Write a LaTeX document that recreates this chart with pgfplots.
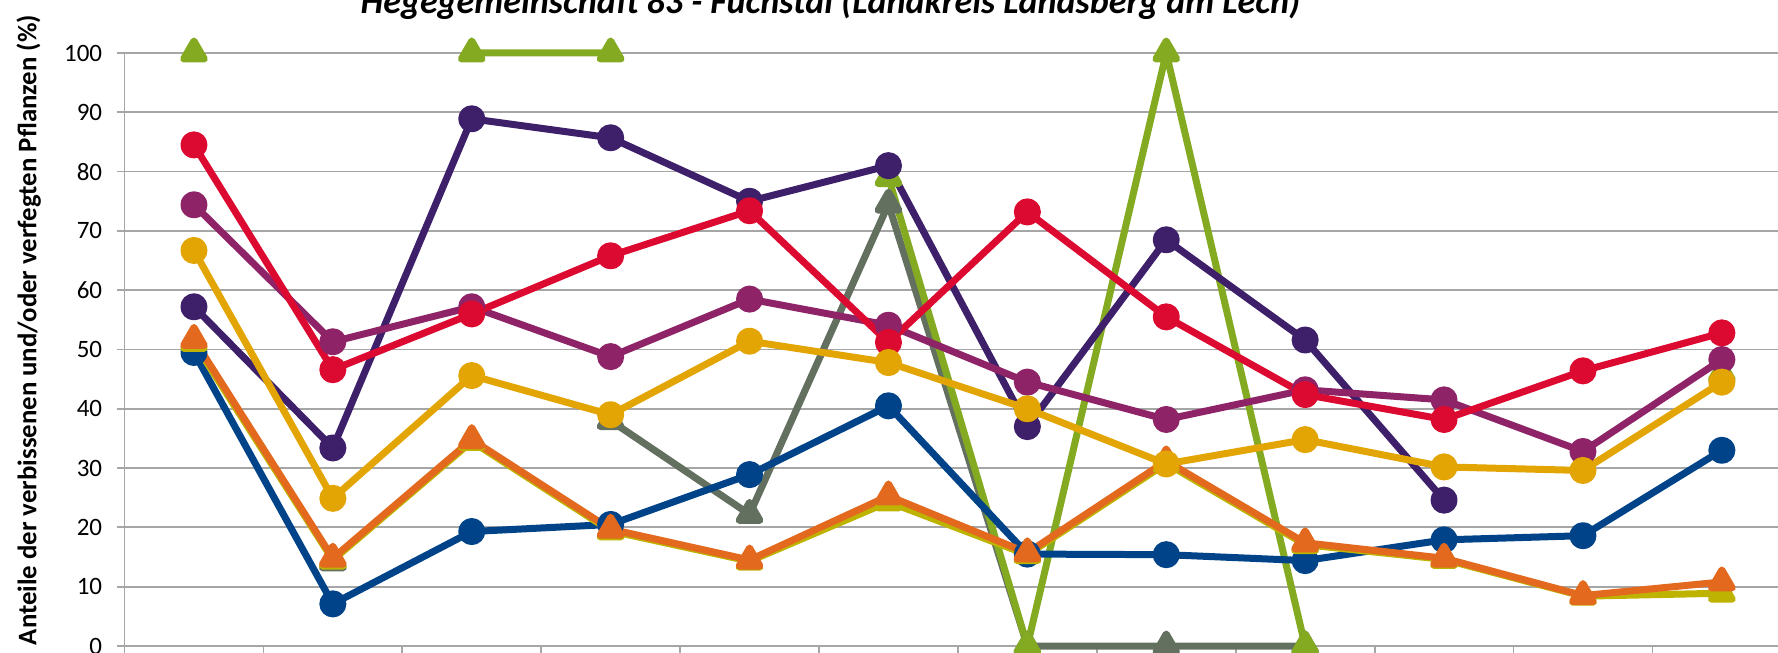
\documentclass[border=0pt]{standalone}
\usepackage{fontspec}
\setmainfont{Carlito}
\usepackage{pgfplots}
\usepackage{pgfplotstable}
\pgfplotsset{compat=1.18}
\definecolor{cdp}{HTML}{3D1F6A}
\definecolor{cred}{HTML}{DC0A30}
\definecolor{cmag}{HTML}{8E2368}
\definecolor{cgold}{HTML}{E2A504}
\definecolor{cblue}{HTML}{004388}
\definecolor{corange}{HTML}{E3691F}
\definecolor{colive}{HTML}{BDB300}
\definecolor{cgray}{HTML}{637060}
\definecolor{cgreen}{HTML}{84AA22}
\definecolor{cgrid}{HTML}{A6A6A6}
\pgfplotstableread{
x dp red mag gold blue orange olive gray green
0 57.2 84.5 74.4 66.7 49.5 51.7 51.2 nan 100
1 33.4 46.6 51.3 24.9 7.1 14.8 14.5 14.2 nan
2 88.9 56.0 57.2 45.6 19.3 34.8 34.5 nan 100
3 85.7 65.8 48.8 39.0 20.5 19.7 19.4 38.0 100
4 75.0 73.4 58.5 51.4 28.9 14.5 14.3 22.2 nan
5 81.0 51.2 54.1 47.8 40.5 25.3 24.3 74.5 79
6 37.0 73.2 44.5 40.0 15.5 15.7 15.4 0 0
7 68.5 55.5 38.2 30.7 15.4 31.2 30.8 0 100
8 51.6 42.4 43.2 34.8 14.4 17.4 17.1 0 0
9 24.6 38.2 41.5 30.2 17.9 14.8 14.6 nan nan
10 nan 46.4 32.8 29.6 18.6 8.5 8.4 nan nan
11 nan 52.8 48.3 44.5 33.0 10.8 8.9 nan 46
}\data
\begin{document}
\begin{tikzpicture}
\begin{axis}[
  at={(0,0)}, anchor=south west,
  scale only axis, width=833.4pt, height=296.5pt,
  xmin=-0.5, xmax=11.5, ymin=0, ymax=100,
  clip=false,
  unbounded coords=jump,
  axis x line*=bottom, axis y line*=left,
  axis line style={cgrid, line width=0.9pt, -},
  xtick={-0.5,0.5,...,11.5}, xticklabels={},
  ytick={0,10,...,100},
  ymajorgrids, grid style={cgrid, line width=0.9pt},
  tick align=outside, major tick length=4pt,
  tick style={cgrid, line width=0.9pt},
  /pgf/number format/assume math mode=true,
  yticklabel style={font=\fontsize{12.5}{14}\selectfont, anchor=east, inner sep=0pt, xshift=-7pt},
  every axis plot/.append style={line width=3.5pt, line join=round},
]
\addplot[cgray, mark=triangle*, mark size=6pt, mark options={fill=cgray, draw=none}] table[x=x,y=gray]{\data};
\addplot[cgreen, mark=triangle*, mark size=6pt, mark options={fill=cgreen, draw=none}] table[x=x,y=green]{\data};
\addplot[cblue, mark=*, mark size=5pt, mark options={fill=cblue, draw=none}] table[x=x,y=blue]{\data};
\addplot[colive, mark=triangle*, mark size=6pt, mark options={fill=colive, draw=none}] table[x=x,y=olive]{\data};
\addplot[corange, mark=triangle*, mark size=6pt, mark options={fill=corange, draw=none}] table[x=x,y=orange]{\data};
\addplot[cdp, mark=*, mark size=5pt, mark options={fill=cdp, draw=none}] table[x=x,y=dp]{\data};
\addplot[cmag, mark=*, mark size=5pt, mark options={fill=cmag, draw=none}] table[x=x,y=mag]{\data};
\addplot[cred, mark=*, mark size=5pt, mark options={fill=cred, draw=none}] table[x=x,y=red]{\data};
\addplot[cgold, mark=*, mark size=5pt, mark options={fill=cgold, draw=none}] table[x=x,y=gold]{\data};
\end{axis}
\node[anchor=base, inner sep=0pt] at (353pt,316pt) {\fontsize{18}{21}\selectfont\bfseries\itshape Hegegemeinschaft 83 - Fuchstal (Landkreis Landsberg am Lech)};
\node[rotate=90, anchor=base, inner sep=0pt] at (-44pt,158pt) {\fontsize{13.4}{16}\selectfont\bfseries Anteile der verbissenen und/oder verfegten Pflanzen (\%)};
\pgfresetboundingbox
\useasboundingbox (-62.25pt,-3.5pt) rectangle (826.75pt,323pt);
\end{tikzpicture}
\end{document}
